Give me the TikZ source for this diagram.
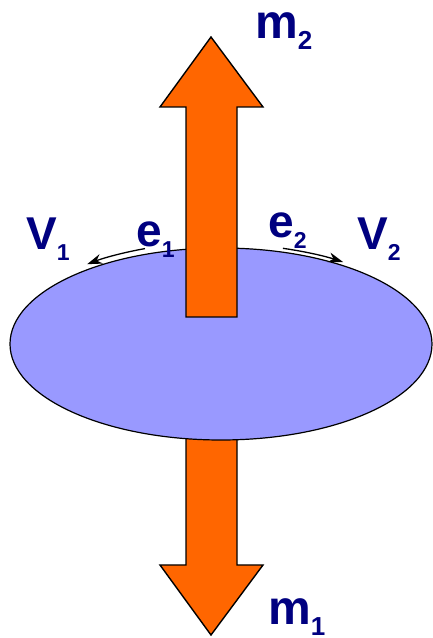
\documentclass[tikz,border=0pt]{standalone}
\usepackage{fontspec}
\setmainfont{Liberation Sans}
\usetikzlibrary{arrows.meta}
\definecolor{navy}{HTML}{000080}
\definecolor{discblue}{HTML}{9999FF}
\definecolor{arroworange}{HTML}{FF6600}
\newcommand{\lbl}[4]{{\fontsize{#3}{#3}\selectfont #1}\raisebox{-11pt}{\fontsize{#4}{#4}\selectfont #2}}

\begin{document}
\begin{tikzpicture}[x=1pt, y=1pt,
  bigarrow/.style={draw=black, line width=1.4pt, fill=arroworange},
  disc/.style={draw=black, line width=1.2pt, fill=discblue},
  sym/.style={inner sep=0pt, anchor=base west, text=navy, font=\bfseries},
  spin/.style={line width=1.3pt, -{Stealth[length=15pt, width=10pt]}}]
        \useasboundingbox (0,0) rectangle (433,638);
        % Define the centre of the disc
        \coordinate (c) at (221,294);

        % lower arrow, behind the disc
        \draw[bigarrow] (186,230) -- (186,73) -- (160,73) -- (211,3) -- (263,73) -- (237,73) -- (237,230) -- cycle;

        % the disc
        \draw[disc] (c) ellipse [x radius=211, y radius=96];

        % upper arrow, in front of the disc
        \draw[bigarrow] (186,321) -- (186,531) -- (160,531) -- (211,601) -- (263,531) -- (237,531) -- (237,321) -- cycle;

        % spin arrows along the rim
        \draw[spin] ([shift={(110.7:215 and 102)}]c) arc [start angle=110.7, end angle=128.5, x radius=215, y radius=102];
        \draw[spin] ([shift={(73.1:213 and 100)}]c) arc [start angle=73.1, end angle=55, x radius=213, y radius=100];

        % labels
        \node[sym] (m2) at (255,599) {\lbl{m}{2}{48}{26}};
        \node[sym] (m1) at (268,13) {\lbl{m}{1}{48}{26}};
        \node[sym] (v1) at (26,388) {\lbl{V}{1}{46}{23}};
        \node[sym] (v2) at (357,388) {\lbl{V}{2}{46}{23}};
        \node[sym] (e1) at (136,391) {\lbl{e}{1}{46}{23}};
        \node[sym] (e2) at (268,400) {\lbl{e}{2}{46}{23}};
    \end{tikzpicture}
\end{document}
